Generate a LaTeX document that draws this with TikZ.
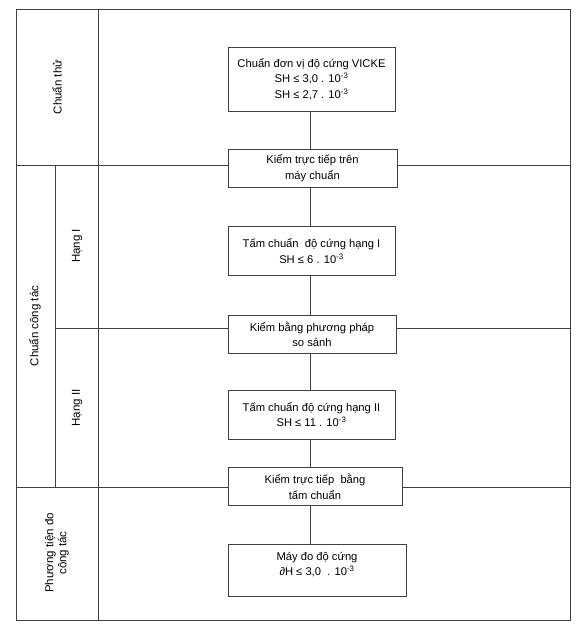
\documentclass[tikz,border=0pt]{standalone}
\usepackage{fontspec}
\setmainfont{Liberation Sans}
\usepackage{tikz}
\usetikzlibrary{positioning}

\newcommand{\ep}[1]{\textsuperscript{#1}}

\begin{document}
\begin{tikzpicture}[
    x=1pt, y=-1pt,
    line width=0.8pt, draw=black!75,
    box/.style={rectangle, draw=black!75, line width=0.8pt, fill=white, align=center, font=\fontsize{11.2}{15.5}\selectfont, inner sep=2pt},
    side/.style={rotate=90, align=center, font=\fontsize{11.5}{13}\selectfont},
    rule/.style={draw=black!75, line width=0.8pt}
]
\useasboundingbox (0,0) rectangle (576,629);

% table frame
\draw[rule] (16,9) rectangle (570,620);
\draw[rule] (98,9) -- (98,620);
\draw[rule] (55,165) -- (55,487);
\coordinate (spine) at (310,0);

% boxes
\node[box, minimum width=167, minimum height=64] (vicke) at (311.5,79) {Chuẩn đơn vị độ cứng VICKE\\SH ≤ 3,0 . 10\ep{-3}\\SH ≤ 2,7 . 10\ep{-3}};
\node[box, minimum width=169, minimum height=38] (kmay) at (312.5,168) {Kiểm trực tiếp trên\\máy chuẩn};
\node[box, minimum width=167, minimum height=49] (hang1) at (311.5,251) {Tấm chuẩn\ \ độ cứng hạng I\\SH ≤ 6 . 10\ep{-3}};
\node[box, minimum width=168, minimum height=38] (kss) at (312,334) {Kiểm bằng phương pháp\\so sánh};
\node[box, minimum width=167, minimum height=49] (hang2) at (311.5,414.5) {Tấm chuẩn độ cứng hạng II\\SH ≤ 11 . 10\ep{-3}};
\node[box, minimum width=174, minimum height=38] (ktam) at (315,486.5) {Kiểm trực tiếp\ \ bằng\\tấm chuẩn};
\node[box, minimum width=178, minimum height=52, text depth=12pt] (maydo) at (317,570) {Máy đo độ cứng\\∂H ≤ 3,0\ \ . 10\ep{-3}};

% spine
\draw[rule] (vicke.south -| spine) -- (kmay.north -| spine);
\draw[rule] (kmay.south -| spine) -- (hang1.north -| spine);
\draw[rule] (hang1.south -| spine) -- (kss.north -| spine);
\draw[rule] (kss.south -| spine) -- (hang2.north -| spine);
\draw[rule] (hang2.south -| spine) -- (ktam.north -| spine);
\draw[rule] (ktam.south -| spine) -- (maydo.north -| spine);

% row borders
\draw[rule] (16,165) -- (kmay.west |- 0,165);
\draw[rule] (kmay.east |- 0,165) -- (570,165);
\draw[rule] (55,328) -- (kss.west |- 0,328);
\draw[rule] (kss.east |- 0,328) -- (570,328);
\draw[rule] (16,487) -- (ktam.west |- 0,487);
\draw[rule] (ktam.east |- 0,487) -- (570,487);

% row labels
\node[side] (thu) at (57,87) {Chuẩn thử};
\node[side] (congtac) at (35,326) {Chuẩn công tác};
\node[side] (h1) at (77,246) {Hạng I};
\node[side] (h2) at (77,408) {Hạng II};
\node[side] (ptien) at (57,553) {Phương tiện đo\\công tác};

\end{tikzpicture}
\end{document}
